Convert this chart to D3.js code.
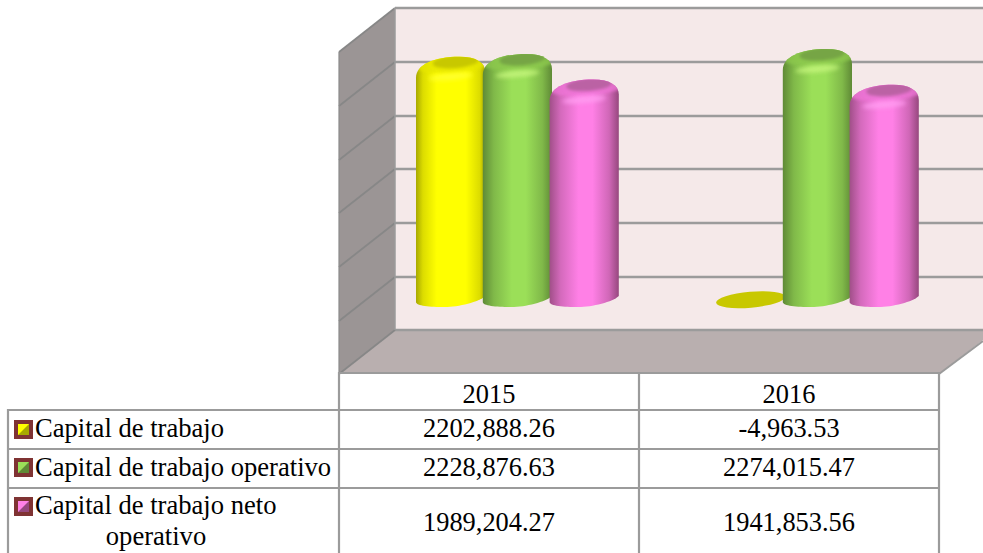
<!DOCTYPE html>
<html><head><meta charset="utf-8">
<script src="https://cdn.jsdelivr.net/npm/d3@7"></script>
<style>html,body{margin:0;padding:0;background:#fff;overflow:hidden}svg{display:block}text{font-family:"Liberation Serif","Times New Roman",serif;fill:#000}</style>
</head><body><svg id="c" width="983" height="553"></svg>
<script>
const categories = ["2015", "2016"];
const seriesNames = ["Capital de trabajo", "Capital de trabajo operativo", "Capital de trabajo neto operativo"];
const capitalTrabajo = [2202888.26, -4963.53];
const capitalOperativo = [2228876.63, 2274015.47];
const capitalNeto = [1989204.27, 1941853.56];
const rowText = [
  ["2202,888.26", "-4,963.53"],
  ["2228,876.63", "2274,015.47"],
  ["1989,204.27", "1941,853.56"]
];
const gridTicks = [-500000, 0, 500000, 1000000, 1500000, 2000000, 2500000];
const seriesValues = [capitalTrabajo, capitalOperativo, capitalNeto];
const palette = [
  {id:"a", edgeL:"#a8a800", mid:"#ffff00", edgeR:"#a8a800", cap:"#c8c800", hi:"#ffff30", rim:"#e6e600"},
  {id:"b", edgeL:"#5f8a36", mid:"#9bdf58", edgeR:"#5f8a36", cap:"#76a544", hi:"#c4f47c", rim:"#8cc84e"},
  {id:"c", edgeL:"#a04f88", mid:"#ff80e6", edgeR:"#96487e", cap:"#bb62a4", hi:"#ff9cf0", rim:"#ee74d6"}
];

const svg = d3.select("#c");
const W = 983, H = 553;
const wall = {l:395, r:983, t:8.49, b:330.49};
const depth = {dx:56, dy:44};
const y = d3.scaleLinear().domain([-500000, 2500000]).range([wall.b, wall.t]);
const midDy = 22.3;
const xCat = d3.scaleBand().domain(categories).range([339, 939]);
const xSer = d3.scaleBand().domain(d3.range(3)).range([0, 200.4]);
const grey = "#9b9b9b";

const defs = svg.append("defs");
palette.forEach((p,i) => {
  const g = defs.append("linearGradient").attr("id","g"+p.id).attr("x1",0).attr("x2",1).attr("y1",0).attr("y2",0);
  const stops = i === 0
    ? [[0,p.edgeL],[.1,d3.interpolateRgb(p.edgeL,p.mid)(.6)],[.3,p.mid],[.72,p.mid],[.92,d3.interpolateRgb(p.edgeR,p.mid)(.6)],[1,p.edgeR]]
    : [[0,p.edgeL],[.16,d3.interpolateRgb(p.edgeL,p.mid)(.55)],[.42,p.mid],[.62,p.mid],[.86,d3.interpolateRgb(p.edgeR,p.mid)(.55)],[1,p.edgeR]];
  stops.forEach(s => g.append("stop").attr("offset",s[0]).attr("stop-color",s[1]));
});
defs.append("filter").attr("id","b2").attr("x","-30%").attr("y","-60%").attr("width","160%").attr("height","220%")
  .append("feGaussianBlur").attr("stdDeviation",1.5);
defs.append("filter").attr("id","b3").attr("x","-30%").attr("y","-80%").attr("width","160%").attr("height","260%")
  .append("feGaussianBlur").attr("stdDeviation",2);

// walls
const wt = Math.round(wall.t), wb = Math.round(wall.b);
const frontL = wall.l - depth.dx, frontB = wb + depth.dy;
svg.append("rect").attr("x",wall.l).attr("y",wt).attr("width",wall.r-wall.l).attr("height",wb-wt).attr("fill","#f5e9e9");
svg.append("path").attr("d",`M${frontL},${wt+depth.dy}L${wall.l},${wt}L${wall.l},${wb}L${frontL},${frontB}Z`).attr("fill","#9b9595");
svg.append("path").attr("d",`M${wall.l},${wb}L${W},${wb}L${W},${wb+10}L939,${frontB}L${frontL},${frontB}Z`).attr("fill","#b9afaf");

// gridlines
gridTicks.forEach(t => {
  const yy = Math.round(y(t));
  svg.append("line").attr("x1",wall.l).attr("x2",W).attr("y1",yy).attr("y2",yy).attr("stroke",grey).attr("stroke-width",2.4);
  svg.append("line").attr("x1",frontL).attr("x2",wall.l).attr("y1",yy+depth.dy).attr("y2",yy).attr("stroke","#878787").attr("stroke-width",1.8);
});
svg.append("line").attr("x1",wall.l).attr("x2",wall.l).attr("y1",wt).attr("y2",wb).attr("stroke",grey).attr("stroke-width",1.5);
svg.append("line").attr("x1",frontL).attr("x2",frontL).attr("y1",wt+depth.dy).attr("y2",frontB).attr("stroke","#8b8b8b").attr("stroke-width",1.2);
svg.append("line").attr("x1",939).attr("x2",W).attr("y1",frontB).attr("y2",frontB-33).attr("stroke",grey).attr("stroke-width",2);

// cylinders
const rx = 34.6, ry = 8, tilt = -5;
categories.forEach((cat, ci) => {
  seriesValues.forEach((vals, si) => {
    const v = vals[ci], p = palette[si];
    const x0 = xCat(cat) + 77 + xSer(si);
    const x1 = x0 + rx*2, cx = x0 + rx;
    const yb = y(0) + midDy, yc = y(v) + midDy;
    const g = svg.append("g");
    if (v <= 0) {
      g.append("ellipse").attr("cx",cx).attr("cy",yc).attr("rx",rx).attr("ry",ry)
        .attr("transform",`rotate(${tilt} ${cx} ${yc})`).attr("fill",p.cap);
      return;
    }
    const d = `M${x0},${yc+15}C${x0},${yc+2} ${cx-17},${yc-6} ${cx+9},${yc-6}`
      + `C${x1-9},${yc-6} ${x1},${yc} ${x1},${yc+9}`
      + `L${x1},${yb-3}`
      + `C${x1-6},${yb+3} ${cx+8},${yb+8} ${cx-6},${yb+8}`
      + `C${x0+14},${yb+8} ${x0},${yb+7} ${x0},${yb+3}Z`;
    const id = `cl${ci}${si}`;
    defs.append("clipPath").attr("id",id).append("path").attr("d",d);
    g.append("path").attr("d",d).attr("fill",`url(#g${p.id})`);
    const inner = g.append("g").attr("clip-path",`url(#${id})`);
    inner.append("ellipse").attr("cx",cx+4).attr("cy",yc+1).attr("rx",rx+4).attr("ry",9)
      .attr("transform",`rotate(${tilt} ${cx+4} ${yc})`).attr("fill",p.rim).attr("opacity",.8).attr("filter","url(#b2)");
    inner.append("ellipse").attr("cx",cx+5).attr("cy",yc-1).attr("rx",23).attr("ry",6.5)
      .attr("transform",`rotate(${tilt} ${cx+5} ${yc})`).attr("fill",p.cap).attr("filter","url(#b2)");
    inner.append("ellipse").attr("cx",cx).attr("cy",yc+14).attr("rx",22).attr("ry",3.2)
      .attr("transform",`rotate(${tilt} ${cx} ${yc+14})`).attr("fill",p.hi).attr("opacity",.9).attr("filter","url(#b3)");
  });
});

// data table
const colX = [339, 639, 939], left = 8;
const rowY = [373, 410, 449, 488];
const tableStroke = "#9b9b9b";
const hline = (x1,x2,yy) => svg.append("line").attr("x1",x1).attr("x2",x2).attr("y1",yy).attr("y2",yy).attr("stroke",tableStroke).attr("stroke-width",2.2);
const vline = (xx,y1,y2) => svg.append("line").attr("x1",xx).attr("x2",xx).attr("y1",y1).attr("y2",y2).attr("stroke",tableStroke).attr("stroke-width",2.2);
hline(colX[0],colX[2],rowY[0]);
rowY.slice(1).forEach(r => hline(left,colX[2],r));
colX.forEach(c => vline(c,rowY[0]-1,H));
vline(left,rowY[1]-1,H);

const txt = (s,xx,yy,anchor,fs) => svg.append("text").attr("x",xx).attr("y",yy).attr("font-size",fs||26.4).attr("text-anchor",anchor||"middle").text(s);
categories.forEach(c => txt(c, xCat(c)+xCat.bandwidth()/2, 403));
const rowBase = [437, 476, 531];
rowText.forEach((row,r) => row.forEach((s,c) => txt(s, xCat(categories[c])+xCat.bandwidth()/2, rowBase[r])));
txt(seriesNames[0], 35, 437, "start", 26.6);
txt(seriesNames[1], 35, 476, "start", 26.6);
txt("Capital de trabajo neto", 35, 514, "start", 26.6);
txt("operativo", 156, 545, "middle", 26.6);

// legend keys
const keyY = [420, 458, 497];
palette.forEach((p,i) => {
  const kx = 14, ky = keyY[i], s = 19;
  const g = svg.append("g");
  g.append("rect").attr("x",kx).attr("y",ky).attr("width",s).attr("height",s).attr("fill","#7f3333");
  const a = kx+4, b = ky+4, n = s-8;
  g.append("rect").attr("x",a).attr("y",b).attr("width",n).attr("height",n).attr("fill",p.mid);
  g.append("path").attr("d",`M${a+n},${b}L${a+n},${b+n}L${a},${b+n}Z`).attr("fill",p.edgeR);
});
</script></body></html>
